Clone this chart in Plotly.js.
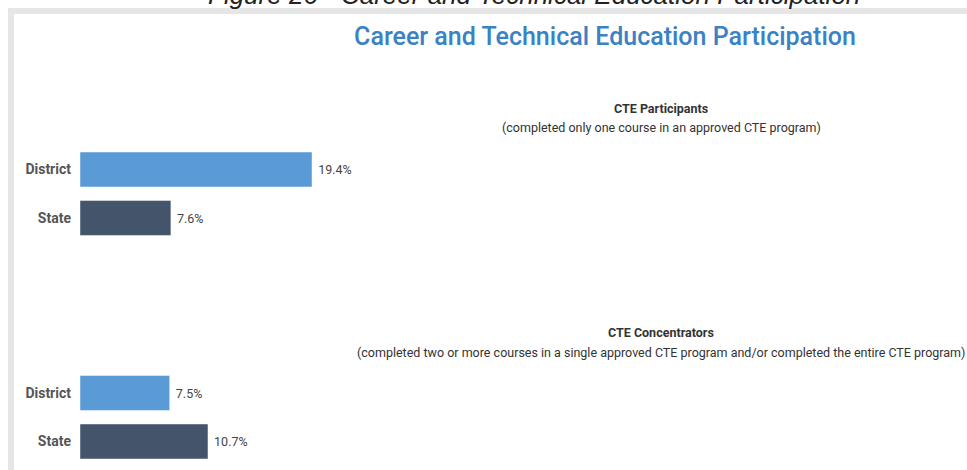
<!DOCTYPE html>
<html>
<head>
<meta charset="utf-8">
<script src="https://cdn.plot.ly/plotly-3.0.1.min.js"></script>
<style>
html,body{margin:0;padding:0;background:#fff;}
#chart{width:967px;height:470px;}
</style>
</head>
<body>
<div id="chart"></div>
<script>
// ---- data ----
const categories = ['District', 'State'];
const participantsValues = [19.4, 7.6];
const concentratorsValues = [7.5, 10.7];
const barColors = ['#5b9bd5', '#44546a'];
const figureTitle = 'Figure 26 - Career and Technical Education Participation';
const chartTitle = 'Career and Technical Education Participation';
const panelTitles = ['CTE Participants', 'CTE Concentrators'];
const panelSubtitles = [
  '(completed only one course in an approved CTE program)',
  '(completed two or more courses in a single approved CTE program and/or completed the entire CTE program)'
];

// ---- geometry helpers (pixel -> paper) ----
const W = 967, H = 470, ML = 80, MR = 0, MT = 0, MB = 0;
const PW = W - ML - MR, PH = H - MT - MB;
const px = x => (x - ML) / PW;
const py = y => 1 - (y - MT) / PH;
const xMax = PW / 11.96;

const font = 'Roboto, "Noto Sans", Arial, sans-serif';

function barTrace(values, xa, ya) {
  return {
    type: 'bar', orientation: 'h',
    y: categories, x: values,
    xaxis: xa, yaxis: ya,
    marker: {color: barColors, line: {color: 'rgba(255,255,255,0.45)', width: 1}},
    texttemplate: '\u00a0%{x:.1f}%',
    textposition: 'outside',
    cliponaxis: false,
    textfont: {family: font, size: 12.5, color: '#444'},
    hoverinfo: 'skip',
    showlegend: false
  };
}

const data = [
  barTrace(participantsValues, 'x', 'y'),
  barTrace(concentratorsValues, 'x2', 'y2')
];

const yCommon = {
  type: 'category', autorange: 'reversed',
  showgrid: false, zeroline: false, showline: false, ticks: '',
  tickfont: {family: font, size: 14, color: '#555', weight: 'bold'},
  ticklabelstandoff: 8,
  fixedrange: true
};
const xCommon = {range: [0, xMax], visible: false, fixedrange: true};

const layout = {
  width: W, height: H,
  margin: {l: ML, r: MR, t: MT, b: MB, pad: 0},
  paper_bgcolor: '#fff', plot_bgcolor: 'rgba(0,0,0,0)',
  bargap: 0.28,
  title: {
    text: chartTitle, xref: 'container', yref: 'container',
    x: 605 / W, y: 1 - 36 / H, xanchor: 'center', yanchor: 'middle',
    font: {family: font, size: 25, color: '#3a82c4', weight: 500}
  },
  xaxis: Object.assign({}, xCommon, {anchor: 'y'}),
  xaxis2: Object.assign({}, xCommon, {anchor: 'y2'}),
  yaxis: Object.assign({}, yCommon, {domain: [py(242.25), py(145.25)], anchor: 'x'}),
  yaxis2: Object.assign({}, yCommon, {domain: [py(465.75), py(368.75)], anchor: 'x2'}),
  shapes: [
    {type: 'rect', xref: 'paper', yref: 'paper', x0: px(8), x1: px(967), y0: py(14), y1: py(8),
     fillcolor: '#e6e6e6', line: {width: 0}, layer: 'below'},
    {type: 'rect', xref: 'paper', yref: 'paper', x0: px(8), x1: px(14), y0: py(470), y1: py(8),
     fillcolor: '#e6e6e6', line: {width: 0}, layer: 'below'}
  ],
  annotations: [
    {text: figureTitle, xref: 'paper', yref: 'paper', x: px(534), y: py(12), xanchor: 'center', yanchor: 'bottom',
     showarrow: false, font: {family: '"Liberation Sans", Arial, sans-serif', size: 26, color: '#222', style: 'italic'}},
    {text: '<b>' + panelTitles[0] + '</b>', xref: 'paper', yref: 'paper', x: px(661), y: py(108),
     xanchor: 'center', yanchor: 'middle', showarrow: false, font: {family: font, size: 12.5, color: '#333'}},
    {text: panelSubtitles[0], xref: 'paper', yref: 'paper', x: px(661), y: py(128),
     xanchor: 'center', yanchor: 'middle', showarrow: false, font: {family: font, size: 12.5, color: '#333'}},
    {text: '<b>' + panelTitles[1] + '</b>', xref: 'paper', yref: 'paper', x: px(661), y: py(332),
     xanchor: 'center', yanchor: 'middle', showarrow: false, font: {family: font, size: 12.5, color: '#333'}},
    {text: panelSubtitles[1], xref: 'paper', yref: 'paper', x: px(661), y: py(352),
     xanchor: 'center', yanchor: 'middle', showarrow: false, font: {family: font, size: 12.5, color: '#333'}}
  ]
};

Plotly.newPlot('chart', data, layout, {displayModeBar: false, staticPlot: true});
</script>
</body>
</html>
